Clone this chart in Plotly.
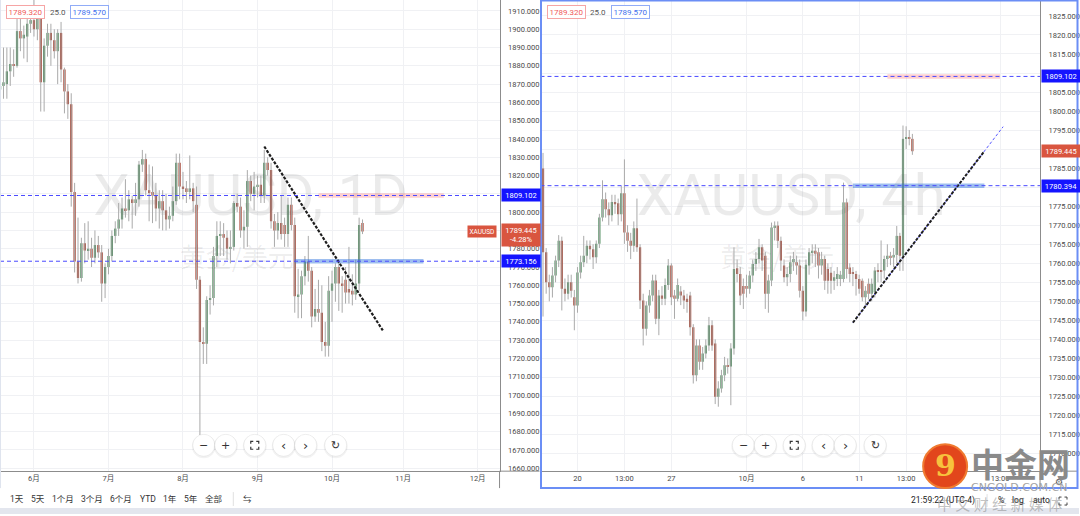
import numpy as np
import pandas as pd
import plotly.graph_objects as go

W, H = 1080, 516
FONT = "Roboto, 'Noto Sans CJK SC', sans-serif"
CJK = "'Noto Sans CJK SC', sans-serif"
UP, DOWN, WICK = "#4f8c5f", "#a8412f", "#aaaaaa"
GRID = "#f0f1f4"
AXIS = "#8c8c8c"
DASH_BLUE = "#4a4aff"

# ---------------- daily XAUUSD (left pane) ----------------
d_dates = pd.bdate_range("2021-05-18", "2021-10-14").strftime("%Y-%m-%d").tolist()
d_open = [1867, 1869, 1870, 1877, 1881, 1880, 1899, 1895, 1896, 1903,
          1905, 1900, 1906, 1871, 1891, 1898, 1894, 1888, 1898, 1878, 1866, 1859, 1811, 1773, 1764, 1783, 1779, 1780, 1775, 1782, 1778, 1761,
          1770, 1776, 1787, 1791, 1796, 1802, 1801, 1807, 1805, 1807, 1826, 1829, 1812, 1811, 1809, 1802, 1806, 1801, 1796, 1798, 1806, 1827,
          1814, 1813, 1811, 1813, 1804, 1763, 1729, 1728, 1752, 1753, 1776, 1787, 1788, 1786, 1780, 1781, 1805, 1803, 1790, 1792, 1817, 1810,
          1814, 1815, 1809, 1827, 1823, 1795, 1790, 1794, 1793, 1788, 1804, 1793, 1754, 1755, 1765, 1773, 1768, 1743, 1747, 1745, 1729, 1727,
          1757, 1761, 1770, 1761, 1763, 1758, 1757, 1755, 1761, 1794]
d_high = [1875, 1890, 1890, 1890, 1889, 1906, 1906, 1902, 1909, 1908,
          1916, 1911, 1910, 1895, 1903, 1903, 1900, 1900, 1904, 1879, 1870, 1865, 1816, 1797, 1786, 1794, 1795, 1786, 1790, 1787, 1782, 1772,
          1780, 1790, 1795, 1805, 1808, 1818, 1812, 1809, 1816, 1828, 1834, 1832, 1826, 1825, 1816, 1812, 1812, 1810, 1803, 1814, 1832, 1832,
          1822, 1817, 1831, 1816, 1814, 1765, 1737, 1754, 1760, 1781, 1795, 1795, 1794, 1790, 1790, 1806, 1810, 1808, 1801, 1823, 1820, 1822,
          1820, 1820, 1834, 1830, 1827, 1799, 1800, 1809, 1797, 1808, 1808, 1797, 1769, 1768, 1776, 1787, 1770, 1758, 1763, 1760, 1740, 1765,
          1768, 1772, 1773, 1765, 1770, 1781, 1766, 1774, 1797, 1796]
d_low = [1861, 1862, 1862, 1869, 1874, 1879, 1888, 1884, 1882, 1898,
         1896, 1894, 1855, 1855, 1885, 1880, 1884, 1870, 1871, 1854, 1851, 1803, 1767, 1761, 1762, 1772, 1774, 1770, 1772, 1775, 1751, 1753,
         1766, 1773, 1783, 1787, 1791, 1797, 1795, 1791, 1798, 1803, 1822, 1809, 1795, 1794, 1795, 1791, 1790, 1790, 1791, 1795, 1804, 1807,
         1807, 1805, 1807, 1800, 1758, 1678, 1717, 1717, 1744, 1749, 1770, 1776, 1776, 1774, 1772, 1779, 1800, 1786, 1780, 1781, 1806, 1801,
         1808, 1805, 1805, 1820, 1791, 1781, 1785, 1785, 1781, 1781, 1790, 1745, 1742, 1742, 1760, 1762, 1737, 1740, 1740, 1724, 1721, 1721,
         1740, 1751, 1746, 1745, 1750, 1750, 1749, 1752, 1757, 1788]
d_close = [1869, 1871, 1877, 1881, 1880, 1899, 1895, 1897, 1903, 1905,
           1900, 1906, 1871, 1891, 1898, 1894, 1888, 1898, 1878, 1866, 1859, 1811, 1773, 1764, 1783, 1779, 1780, 1775, 1782, 1778, 1761, 1770,
           1776, 1787, 1791, 1796, 1802, 1801, 1807, 1805, 1807, 1826, 1829, 1812, 1811, 1809, 1802, 1806, 1801, 1796, 1798, 1806, 1827, 1814,
           1813, 1811, 1813, 1806, 1763, 1729, 1728, 1752, 1753, 1776, 1787, 1788, 1786, 1780, 1781, 1805, 1803, 1790, 1792, 1817, 1810, 1814,
           1815, 1809, 1827, 1823, 1795, 1790, 1794, 1788, 1788, 1804, 1793, 1754, 1755, 1765, 1773, 1768, 1743, 1747, 1745, 1729, 1727, 1757,
           1761, 1770, 1761, 1760, 1756, 1756, 1755, 1761, 1793, 1789.445]
d_month_starts = ["2021-06-01", "2021-07-01", "2021-08-02", "2021-09-01", "2021-10-01", "2021-11-01", "2021-12-01"]
d_month_labels = ["6月", "7月", "8月", "9月", "10月", "11月", "12月"]

# ---------------- 4h XAUUSD (right pane) ----------------
h_start = "2021-09-16 05:00"
h_open = [1784.9, 1762.9, 1755.0, 1753.7, 1756.8, 1760.7, 1765.9, 1753.3, 1752.0, 1755.0,
          1751.1, 1748.9, 1757.6, 1760.3, 1762.0, 1764.6, 1763.7, 1761.6, 1765.1, 1772.0,
          1776.8, 1774.2, 1772.6, 1776.1, 1775.8, 1772.9, 1778.4, 1768.1, 1765.9, 1764.6,
          1769.2, 1764.2, 1750.2, 1742.8, 1748.9, 1751.5, 1755.5, 1745.4, 1751.5, 1750.7,
          1754.3, 1759.4, 1751.5, 1750.7, 1752.6, 1751.5, 1750.7, 1751.5, 1743.2, 1730.6,
          1738.4, 1734.1, 1736.3, 1738.4, 1743.7, 1738.9, 1724.9, 1727.1, 1730.6, 1733.2,
          1732.9, 1737.6, 1758.7, 1757.2, 1754.0, 1754.0, 1753.3, 1756.8, 1759.8, 1761.1,
          1764.2, 1762.0, 1752.0, 1755.5, 1769.4, 1769.9, 1765.9, 1759.4, 1756.3, 1757.2,
          1760.3, 1760.3, 1759.4, 1752.8, 1747.3, 1759.4, 1762.9, 1763.3, 1762.9, 1759.4,
          1761.1, 1758.5, 1757.5, 1755.4, 1755.9, 1755.9, 1755.9, 1776.0, 1758.9, 1757.6,
          1757.2, 1755.9, 1755.4, 1751.1, 1754.6, 1752.0, 1752.4, 1758.1, 1758.1, 1758.1,
          1761.1, 1762.0, 1761.5, 1762.2, 1767.2, 1762.0, 1792.7, 1793.0, 1792.7]
h_high = [1789.0, 1764.0, 1757.0, 1759.0, 1762.0, 1767.4, 1767.0, 1756.0, 1757.0, 1757.0,
          1753.0, 1759.0, 1762.0, 1767.2, 1766.0, 1766.0, 1765.0, 1766.0, 1773.0, 1781.8,
          1778.6, 1776.0, 1778.0, 1778.0, 1777.0, 1780.3, 1787.3, 1770.0, 1768.0, 1771.0,
          1777.0, 1765.0, 1752.0, 1750.0, 1753.0, 1757.0, 1757.0, 1753.0, 1754.0, 1756.0,
          1761.1, 1760.0, 1753.0, 1756.0, 1754.0, 1753.0, 1752.0, 1752.5, 1744.0, 1740.0,
          1740.0, 1738.0, 1740.0, 1745.9, 1745.0, 1740.0, 1729.0, 1732.0, 1735.4, 1735.0,
          1739.0, 1764.2, 1761.0, 1759.0, 1756.0, 1757.0, 1758.0, 1761.0, 1763.0, 1766.4,
          1765.0, 1763.0, 1757.0, 1770.7, 1771.0, 1771.0, 1767.0, 1761.0, 1759.0, 1762.0,
          1763.0, 1762.0, 1761.0, 1754.0, 1761.0, 1764.0, 1765.0, 1765.0, 1764.0, 1763.0,
          1762.0, 1760.0, 1759.0, 1758.0, 1759.0, 1758.0, 1781.2, 1777.0, 1760.0, 1759.0,
          1758.0, 1757.0, 1756.0, 1754.0, 1756.0, 1756.0, 1759.0, 1760.0, 1766.0, 1762.0,
          1765.0, 1763.0, 1764.0, 1769.8, 1768.0, 1796.2, 1796.0, 1795.0, 1794.0]
h_low = [1746.0, 1752.0, 1750.0, 1751.0, 1755.0, 1759.0, 1747.6, 1750.0, 1750.5, 1751.0,
         1742.4, 1747.0, 1756.0, 1759.0, 1760.0, 1761.0, 1758.5, 1760.0, 1764.0, 1771.0,
         1772.0, 1770.0, 1771.0, 1773.0, 1770.0, 1771.0, 1765.1, 1763.0, 1761.1, 1763.0,
         1763.0, 1748.0, 1738.4, 1741.0, 1747.0, 1750.0, 1744.0, 1741.1, 1749.0, 1749.0,
         1753.0, 1749.0, 1745.4, 1750.0, 1749.0, 1748.0, 1747.0, 1741.0, 1728.4, 1729.0,
         1732.0, 1732.0, 1735.0, 1737.0, 1737.0, 1723.0, 1722.3, 1726.0, 1729.0, 1731.0,
         1722.7, 1736.0, 1755.0, 1749.0, 1748.0, 1751.0, 1752.0, 1755.0, 1758.0, 1760.0,
         1758.0, 1748.0, 1747.0, 1754.0, 1766.0, 1764.0, 1758.0, 1755.0, 1754.0, 1755.0,
         1758.0, 1757.0, 1751.0, 1745.0, 1746.0, 1757.0, 1760.0, 1759.0, 1756.0, 1757.0,
         1753.0, 1752.0, 1752.0, 1753.0, 1754.0, 1754.0, 1755.0, 1756.0, 1755.0, 1754.0,
         1751.5, 1752.0, 1750.0, 1749.0, 1750.5, 1750.0, 1751.0, 1755.0, 1755.0, 1756.0,
         1759.0, 1759.5, 1759.0, 1760.0, 1758.0, 1758.0, 1790.0, 1791.0, 1788.5]
h_close = [1762.9, 1755.0, 1753.7, 1756.8, 1760.7, 1765.9, 1753.3, 1752.0, 1755.0, 1752.8,
           1748.9, 1757.6, 1760.3, 1762.0, 1764.6, 1763.7, 1761.6, 1765.1, 1772.0, 1776.8,
           1774.2, 1772.6, 1776.1, 1775.5, 1772.9, 1778.4, 1768.1, 1765.9, 1764.6, 1769.2,
           1764.2, 1750.2, 1742.8, 1748.9, 1751.5, 1755.5, 1745.4, 1751.5, 1750.7, 1754.3,
           1759.4, 1751.1, 1750.7, 1754.3, 1751.5, 1750.2, 1749.8, 1743.2, 1730.6, 1738.4,
           1734.1, 1736.3, 1738.4, 1743.7, 1738.4, 1724.9, 1727.1, 1730.6, 1733.2, 1732.9,
           1737.6, 1758.5, 1757.2, 1751.5, 1752.0, 1753.3, 1756.8, 1759.8, 1761.1, 1764.2,
           1760.7, 1752.0, 1755.5, 1769.4, 1769.9, 1765.9, 1760.7, 1756.3, 1757.2, 1760.3,
           1761.1, 1759.4, 1752.8, 1747.3, 1759.6, 1762.9, 1763.3, 1762.5, 1759.4, 1761.1,
           1755.4, 1755.4, 1755.4, 1756.3, 1757.2, 1757.0, 1776.0, 1758.5, 1757.2, 1757.2,
           1755.9, 1753.3, 1751.1, 1752.8, 1752.0, 1754.6, 1758.1, 1757.8, 1757.8, 1761.1,
           1762.0, 1761.5, 1762.2, 1767.2, 1762.0, 1792.7, 1793.0, 1792.7, 1789.445]
h_tick_times = ["2021-09-20 01:00", "2021-09-22 13:00", "2021-09-27 01:00", "2021-10-01 01:00",
                "2021-10-06 01:00", "2021-10-11 01:00", "2021-10-13 13:00", "2021-10-20 13:00"]
h_tick_labels = ["20", "13:00", "27", "10月", "6", "11", "13:00", "13:00"]

# drawings (level prices and trend-line anchors)
lvl_top = 1809.102
lvl_left_low = 1773.156
lvl_right_low = 1780.394
last_price = 1789.445
left_trend = (["2021-09-03", "2021-10-22"], [1835.9, 1735.3])
left_pink = ["2021-09-27", "2021-11-17"]
left_blue = ["2021-09-16", "2021-11-09"]
right_trend = (["2021-10-10 17:00", "2021-10-20 17:00"], [1744.4, 1795.9])
right_trend_black_end = "2021-10-19 17:00"
right_pink = ["2021-10-12 13:00", "2021-10-20 13:00"]
right_blue = ["2021-10-10 17:00", "2021-10-19 17:00"]


# ---------------- helpers ----------------
def px(x):
    return x / W


def py(y):
    return 1 - y / H


def didx(d):
    return int(np.busday_count("2021-06-01", d))


def fx_4h_times(start, n=400):
    ts = pd.date_range(start, periods=n, freq="4h")
    wd, hr = ts.dayofweek, ts.hour
    keep = ~((wd == 5) | ((wd == 4) & (hr >= 17)) | ((wd == 6) & (hr < 17)))
    return ts[keep]


h_all = fx_4h_times(h_start)


def hidx(t):
    return int(h_all.get_loc(pd.Timestamp(t)))


# pane geometry (pixels)
PLOT_BOTTOM = 473
L_X0, L_X1 = 0, 500
R_X0, R_X1 = 541, 1041
L_PPB = 3.39            # pixels per daily bar
R_PPB = 3.133           # pixels per 4h bar
L_ORIGIN = 34           # pixel of 2021-06-01 bar
R_ORIGIN = 578 - 11 * R_PPB   # pixel of first 4h bar
l_range = [(L_X0 - L_ORIGIN) / L_PPB, (L_X1 - L_ORIGIN) / L_PPB]
r_range = [(R_X0 - R_ORIGIN) / R_PPB, (R_X1 - R_ORIGIN) / R_PPB]
ly_range = [1910 - (PLOT_BOTTOM - 11) / 1.836, 1910 + 11 / 1.836]
ry_range = [1825 - (PLOT_BOTTOM - 16) / 3.82, 1825 + 16 / 3.82]


def lx_data(p):
    return l_range[0] + (p - L_X0) / L_PPB


def ly_data(p):
    return ly_range[1] - p / PLOT_BOTTOM * (ly_range[1] - ly_range[0])


def rx_data(p):
    return r_range[0] + (p - R_X0) / R_PPB


def ry_data(p):
    return ry_range[1] - p / PLOT_BOTTOM * (ry_range[1] - ry_range[0])


fig = go.Figure()

# watermarks (behind candles)
for xa, ya, xf, yf, cx, title, sub_x in [("x", "y", lx_data, ly_data, 251, "XAUUSD, 1D", 237),
                                         ("x2", "y2", rx_data, ry_data, 792, "XAUUSD, 4h", 778)]:
    fig.add_trace(go.Scatter(x=[xf(cx)], y=[yf(201)], mode="text", text=[title],
                             textfont=dict(family="Roboto", size=58, color="rgba(0,0,0,0.08)"),
                             xaxis=xa, yaxis=ya, hoverinfo="skip"))
    fig.add_trace(go.Scatter(x=[xf(sub_x)], y=[yf(262)], mode="text", text=["黄金/美元"],
                             textfont=dict(family=CJK, size=26, color="rgba(0,0,0,0.08)"),
                             xaxis=xa, yaxis=ya, hoverinfo="skip"))


def add_candles(x, o, h, l, c, xa, ya, body_w, min_h):
    o, h, l, c = map(np.asarray, (o, h, l, c))
    wx, wy = [], []
    for xi, hi, li in zip(x, h, l):
        wx += [xi, xi, None]
        wy += [li, hi, None]
    fig.add_trace(go.Scatter(x=wx, y=wy, mode="lines", line=dict(color=WICK, width=1),
                             xaxis=xa, yaxis=ya, hoverinfo="skip"))
    base = np.minimum(o, c)
    height = np.maximum(np.abs(c - o), min_h)
    colors = np.where(c >= o, UP, DOWN)
    fig.add_trace(go.Bar(x=list(x), y=height, base=base, width=body_w,
                         marker=dict(color=colors, line=dict(width=0)),
                         xaxis=xa, yaxis=ya, hoverinfo="skip"))


d_x = [didx(d) for d in d_dates]
h_x = list(range(len(h_open)))
add_candles(d_x, d_open, d_high, d_low, d_close, "x", "y", 0.66, 0.6)
add_candles(h_x, h_open, h_high, h_low, h_close, "x2", "y2", 0.7, 0.3)

# highlight bands on the levels
for xs, lvl, col, xa, ya in [
    ([didx(d) for d in left_pink], lvl_top, "rgba(255,120,120,0.35)", "x", "y"),
    ([didx(d) for d in left_blue], lvl_left_low, "rgba(40,110,220,0.45)", "x", "y"),
    ([hidx(t) for t in right_pink], lvl_top, "rgba(255,120,120,0.35)", "x2", "y2"),
    ([hidx(t) for t in right_blue], lvl_right_low, "rgba(40,110,220,0.45)", "x2", "y2"),
]:
    fig.add_trace(go.Scatter(x=xs, y=[lvl, lvl], mode="lines", line=dict(color=col, width=4.5),
                             xaxis=xa, yaxis=ya, hoverinfo="skip"))

# trend lines
lt_x = [didx(d) for d in left_trend[0]]
fig.add_trace(go.Scatter(x=lt_x, y=left_trend[1], mode="lines",
                         line=dict(color="#1e1e1e", width=2.2, dash="3px,1.5px"),
                         xaxis="x", yaxis="y", hoverinfo="skip"))
rt_x = [hidx(t) for t in right_trend[0]]
fig.add_trace(go.Scatter(x=rt_x, y=right_trend[1], mode="lines",
                         line=dict(color="#5a5aff", width=1, dash="3px,2px"),
                         xaxis="x2", yaxis="y2", hoverinfo="skip"))
rb_x = hidx(right_trend_black_end)
rb_y = np.interp(rb_x, rt_x, right_trend[1])
fig.add_trace(go.Scatter(x=[rt_x[0], rb_x], y=[right_trend[1][0], rb_y], mode="lines",
                         line=dict(color="#1e1e1e", width=2, dash="3px,1.5px"),
                         xaxis="x2", yaxis="y2", hoverinfo="skip"))

shapes = []
# dashed horizontal levels
for xref, yref, lvl in [("x domain", "y", lvl_top), ("x domain", "y", lvl_left_low),
                        ("x2 domain", "y2", lvl_top), ("x2 domain", "y2", lvl_right_low)]:
    shapes.append(dict(type="line", xref=xref, yref=yref, x0=0, x1=1, y0=lvl, y1=lvl,
                       line=dict(color=DASH_BLUE, width=1, dash="4px,3px")))

# axis chrome extensions
shapes += [
    dict(type="line", xref="paper", yref="paper", x0=px(L_X1), x1=px(540), y0=py(PLOT_BOTTOM), y1=py(PLOT_BOTTOM),
         line=dict(color=AXIS, width=1)),
    dict(type="line", xref="paper", yref="paper", x0=px(L_X1), x1=px(L_X1), y0=py(PLOT_BOTTOM), y1=py(490),
         line=dict(color=AXIS, width=1)),
    dict(type="line", xref="paper", yref="paper", x0=px(R_X1), x1=px(1078), y0=py(PLOT_BOTTOM), y1=py(PLOT_BOTTOM),
         line=dict(color=AXIS, width=1)),
    dict(type="line", xref="paper", yref="paper", x0=px(R_X1), x1=px(R_X1), y0=py(PLOT_BOTTOM), y1=py(490),
         line=dict(color=AXIS, width=1)),
    dict(type="line", xref="paper", yref="paper", x0=px(0.5), x1=px(0.5), y0=py(0), y1=py(490),
         line=dict(color="#dfe4ee", width=1)),
    # selected pane frame
    dict(type="rect", xref="paper", yref="paper", x0=px(541.5), x1=px(1078.5), y0=py(490), y1=py(0.5),
         line=dict(color="#6b8ef5", width=2)),
    # page strip at the bottom
    dict(type="rect", xref="paper", yref="paper", x0=0, x1=1, y0=0, y1=py(510),
         fillcolor="#e3e6ee", line=dict(width=0)),
    dict(type="line", xref="paper", yref="paper", x0=px(233.5), x1=px(233.5), y0=py(494), y1=py(508),
         line=dict(color="#e0e0e0", width=1)),
    dict(type="line", xref="paper", yref="paper", x0=px(988), x1=px(988), y0=py(496), y1=py(509),
         line=dict(color="#e0e0e0", width=1)),
]


def ppath(points):
    return "M " + " L ".join(f"{px(x):.5f},{py(y):.5f}" for x, y in points)


def corner_icon(cx, cy, r=4, leg=2.5, color="#333", w=1.2):
    out = []
    for sx in (-1, 1):
        for sy in (-1, 1):
            pts = [(cx + sx * r, cy + sy * (r - leg)), (cx + sx * r, cy + sy * r), (cx + sx * (r - leg), cy + sy * r)]
            out.append(dict(type="path", xref="paper", yref="paper", path=ppath(pts),
                            line=dict(color=color, width=w)))
    return out


annotations = []


def txt(x, y, s, size=8, color="#333", family=FONT, **kw):
    annotations.append(dict(x=px(x), y=py(y), xref="paper", yref="paper", text=s, showarrow=False,
                            xanchor=kw.pop("xanchor", "center"), yanchor=kw.pop("yanchor", "middle"),
                            font=dict(size=size, color=color, family=family), **kw))


# navigation buttons
NAV_Y = 447
for base_x in (0, 540):
    for cx, sym in [(204, "−"), (226, "+"), (255, None), (284, "‹"), (306, "›"), (336, "↻")]:
        cx += base_x
        shapes.append(dict(type="circle", xref="paper", yref="paper", x0=px(cx - 12), x1=px(cx + 12),
                           y0=py(NAV_Y + 13), y1=py(NAV_Y - 11), fillcolor="rgba(0,0,0,0.05)", line=dict(width=0)))
        shapes.append(dict(type="circle", xref="paper", yref="paper", x0=px(cx - 11), x1=px(cx + 11),
                           y0=py(NAV_Y + 11), y1=py(NAV_Y - 11), fillcolor="white",
                           line=dict(color="rgba(0,0,0,0.06)", width=1)))
        if sym is None:
            shapes += corner_icon(cx, NAV_Y)
        else:
            txt(cx, NAV_Y, sym, size=13 if sym in "‹›" else 11, color="#333", family="DejaVu Sans")

# OHLC boxes at the top of each pane
for off in (0, 541):
    txt(26 + off, 12.5, "1789.320", size=8, color="#ef5b5b", bordercolor="#f6a5a5", borderwidth=1,
        borderpad=1.5, bgcolor="white")
    txt(58 + off, 12.5, "25.0", size=8, color="#555")
    txt(90 + off, 12.5, "1789.570", size=8, color="#3f6fee", bordercolor="#91acf7", borderwidth=1,
        borderpad=1.5, bgcolor="white")


# price tags on the scales
def tag(x, yval, yref, s, bg, width=35):
    annotations.append(dict(x=px(x), y=yval, xref="paper", yref=yref, xanchor="left", yanchor="middle",
                            text=s, showarrow=False, bgcolor=bg, borderpad=1.5, width=width,
                            font=dict(size=7.5, color="white", family=FONT)))


tag(501, lvl_top, "y", "1809.102", "#1414ff")
tag(501, lvl_left_low, "y", "1773.156", "#1414ff")
annotations.append(dict(x=px(501), y=py(236), xref="paper", yref="paper", xanchor="left", yanchor="middle",
                        text=f"{last_price:.3f}<br>-4.28%", showarrow=False, bgcolor="#d9553f", borderpad=1.5,
                        width=35, font=dict(size=7.5, color="white", family=FONT)))
annotations.append(dict(x=px(497), y=last_price, xref="paper", yref="y", xanchor="right", yanchor="middle",
                        text="XAUUSD", showarrow=False, bgcolor="#d9553f", borderpad=1.5,
                        font=dict(size=6.5, color="white", family=FONT)))
tag(R_X1 + 1, lvl_top, "y2", "1809.102", "#1414ff")
tag(R_X1 + 1, last_price, "y2", f"{last_price:.3f}", "#d9553f")
tag(R_X1 + 1, lvl_right_low, "y2", "1780.394", "#1414ff")

# bottom toolbar (left)
for cx, s in [(17, "1天"), (38, "5天"), (63, "1个月"), (92, "3个月"), (121, "6个月"), (148, "YTD"),
              (170, "1年"), (191, "5年"), (214, "全部"), (248, "⇆")]:
    txt(cx, 501, s, size=8.5, color="#333")

# status bar (right)
txt(944, 502, "21:59:22 (UTC-4)", size=8.5, color="#222")
txt(1002, 502, "%", size=8.5, color="#222")
txt(1019, 502, "log", size=8.5, color="#222")
txt(1042, 502, "auto", size=8.5, color="#222")
shapes += corner_icon(1064, 503, r=4, leg=2.5, color="#444", w=1)
txt(1060, 484, "⚙", size=9, color="#555", family="DejaVu Sans")

# cngold logo watermark
shapes.append(dict(type="circle", xref="paper", yref="paper", x0=px(924), x1=px(968), y0=py(490), y1=py(446),
                   fillcolor="#e2461c", line=dict(color="#f07a30", width=2)))
txt(946, 467, "<b>9</b>", size=30, color="#f7c23d", family="DejaVu Serif")
txt(1021, 465, "<b>中金网</b>", size=33, color="#8a8a8a", family=CJK)
txt(1020, 489, "CNGOLD.COM.CN", size=11, color="#a3a3a3", family="DejaVu Sans")
txt(1000, 505, "中 文 财 经 新 媒 体", size=15, color="rgba(120,120,120,0.45)", family=CJK)

axis_common = dict(showgrid=True, gridcolor=GRID, gridwidth=1, zeroline=False, showline=True,
                   linecolor=AXIS, linewidth=1, ticks="", fixedrange=True,
                   tickfont=dict(size=7.5, color="#4a4a4a", family=FONT))

fig.update_layout(
    width=W, height=H, margin=dict(l=0, r=0, t=0, b=0),
    paper_bgcolor="white", plot_bgcolor="white", showlegend=False, barmode="overlay",
    font=dict(family=FONT, size=8, color="#333"),
    xaxis=dict(domain=[px(L_X0), px(L_X1)], range=l_range, anchor="y",
               tickvals=[didx(d) for d in d_month_starts], ticktext=d_month_labels, **axis_common),
    yaxis=dict(domain=[py(PLOT_BOTTOM), 1], range=ly_range, anchor="x", side="right",
               tick0=1660, dtick=10, tickformat=".3f", ticklabelstandoff=6, **axis_common),
    xaxis2=dict(domain=[px(R_X0), px(R_X1)], range=r_range, anchor="y2",
                tickvals=[hidx(t) for t in h_tick_times], ticktext=h_tick_labels, **axis_common),
    yaxis2=dict(domain=[py(PLOT_BOTTOM), 1], range=ry_range, anchor="x2", side="right",
                tick0=1705, dtick=5, tickformat=".3f", ticklabelstandoff=6, **axis_common),
    shapes=shapes,
    annotations=annotations,
)

fig.write_html("out.html", config={"displayModeBar": False},
               post_script="document.body.style.margin='0';document.body.style.overflow='hidden';")
